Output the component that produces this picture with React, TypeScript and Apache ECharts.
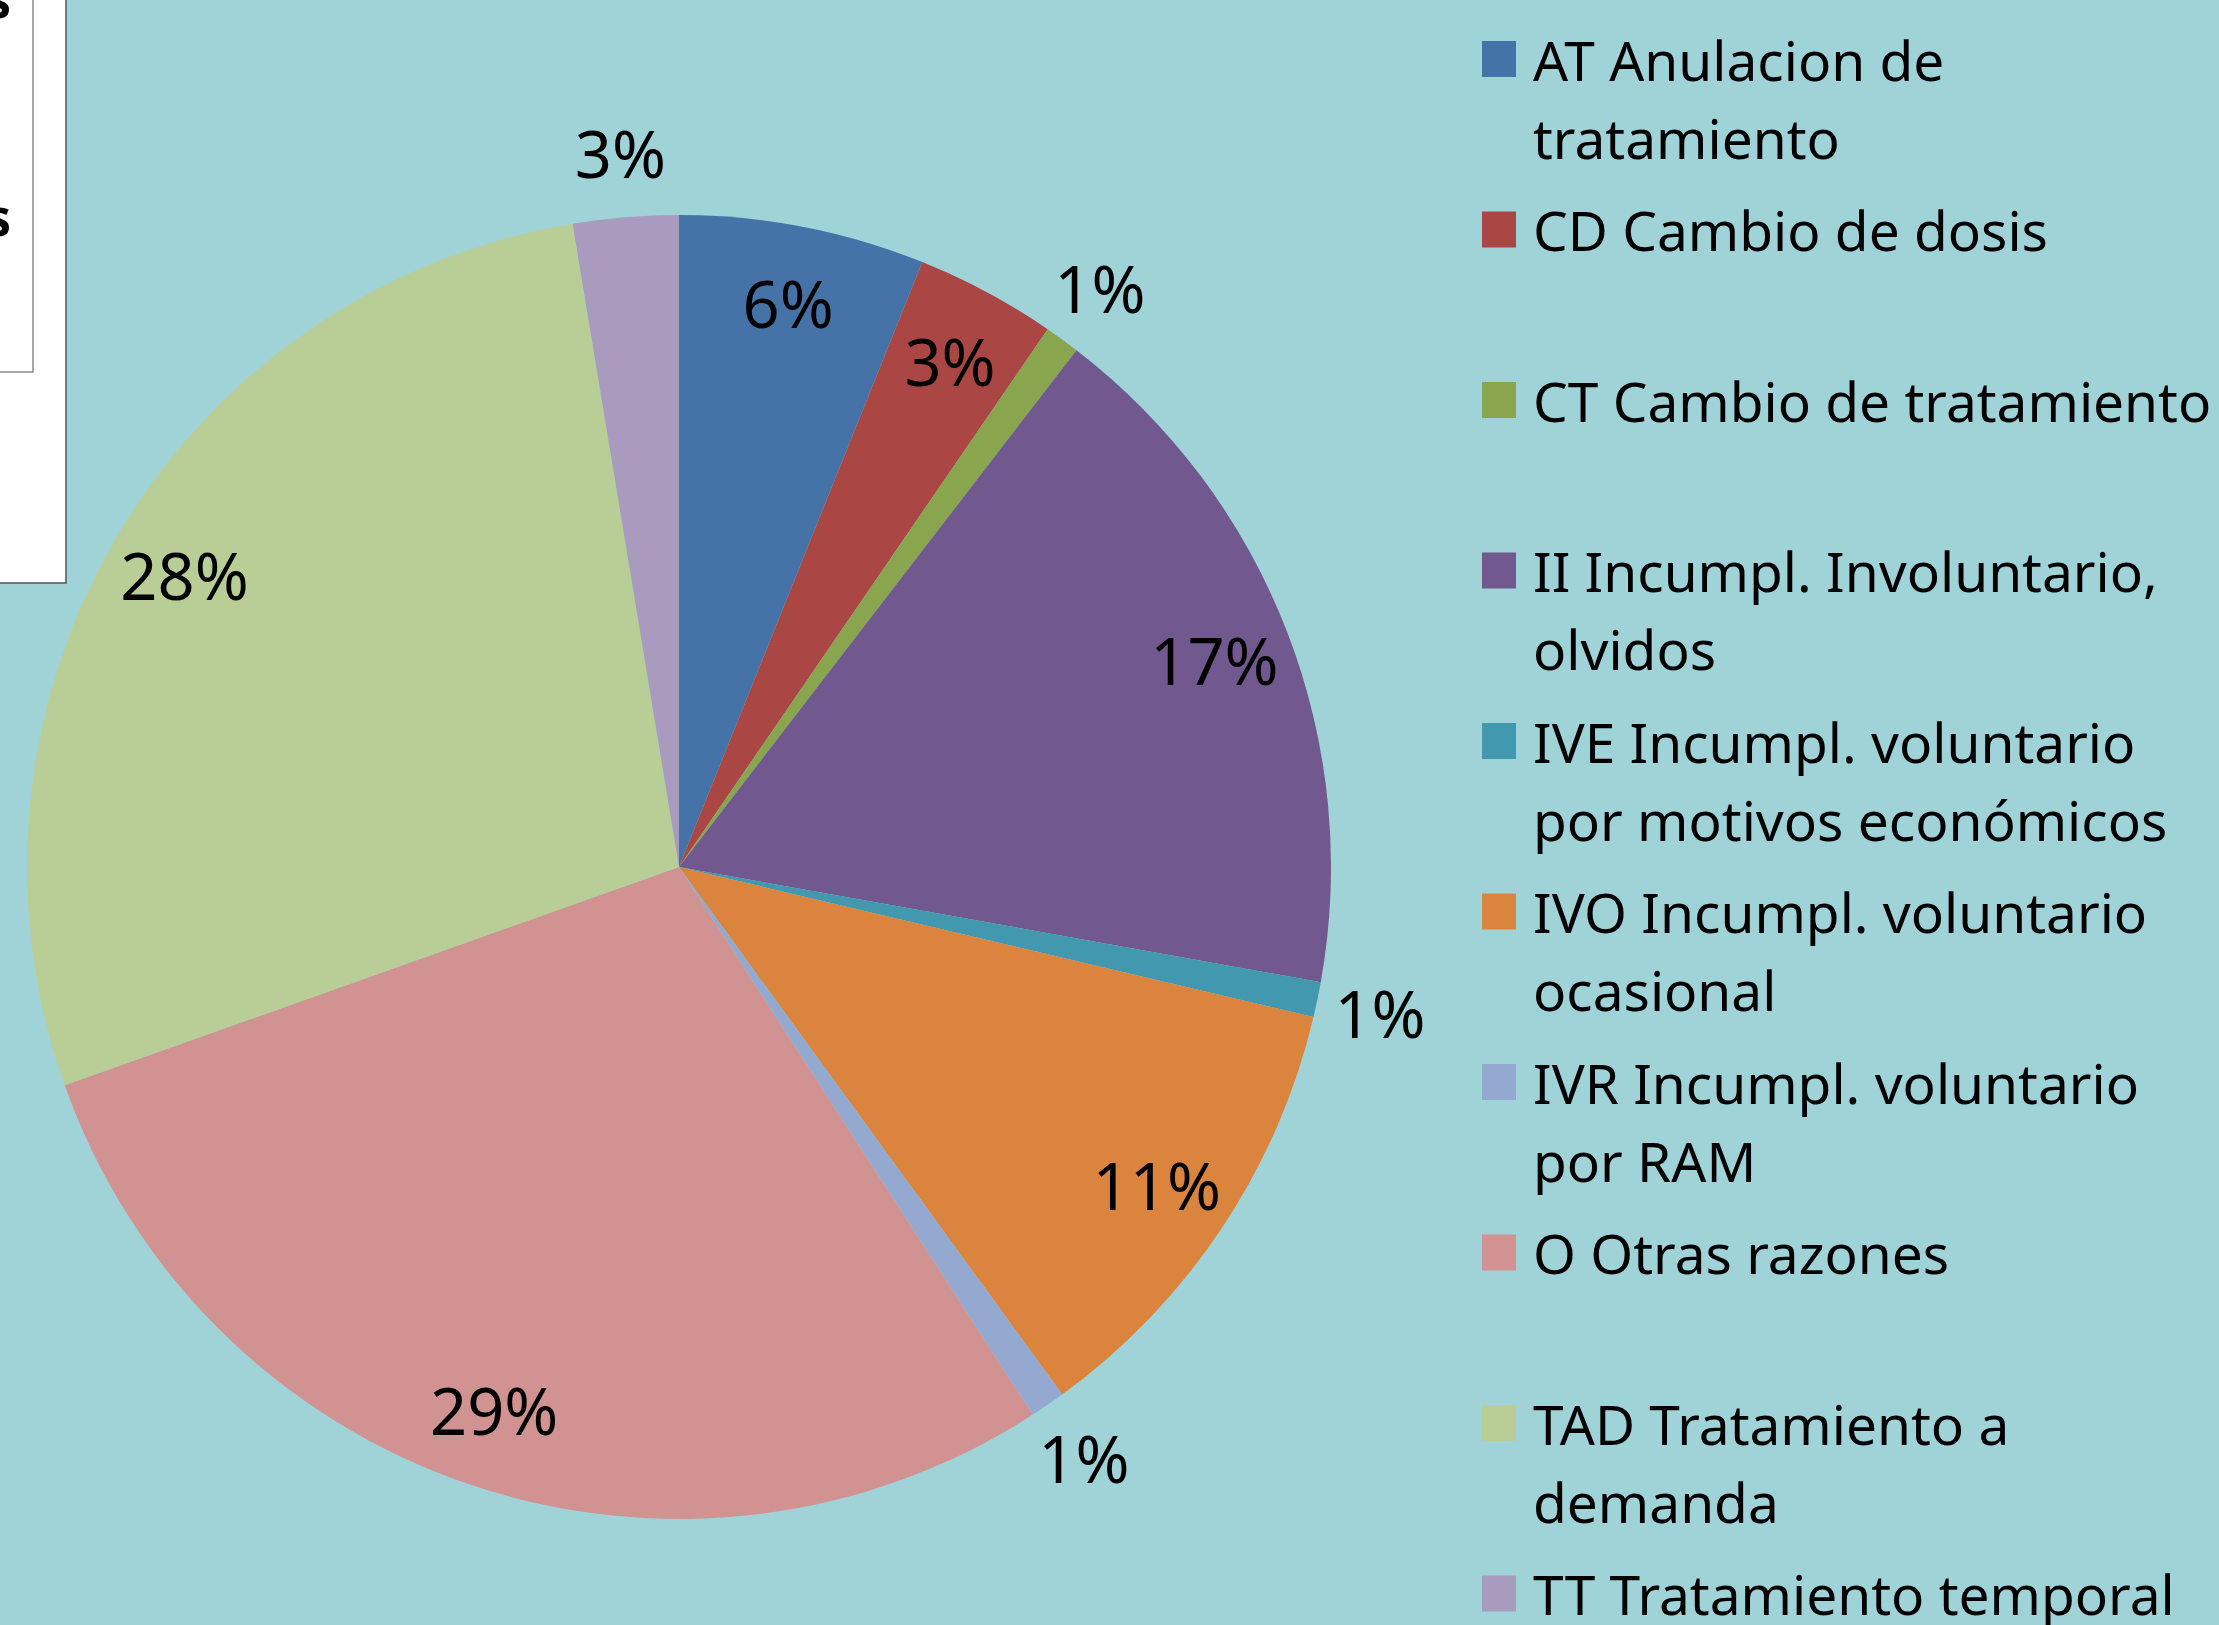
import React, { useEffect, useRef } from "react";
import * as echarts from "echarts";

const categories = [
  "AT Anulacion de\ntratamiento",
  "CD Cambio de dosis",
  "CT Cambio de tratamiento",
  "II Incumpl. Involuntario,\nolvidos",
  "IVE Incumpl. voluntario\npor motivos económicos",
  "IVO Incumpl. voluntario\nocasional",
  "IVR Incumpl. voluntario\npor RAM",
  "O Otras razones",
  "TAD Tratamiento a\ndemanda",
  "TT Tratamiento temporal",
];
const counts = [7, 4, 1, 20, 1, 13, 1, 33, 32, 3];
const colors = [
  "#4572A7", "#AA4643", "#89A54E", "#71588F", "#4198AF",
  "#DB843D", "#93A9CF", "#D19392", "#B9CD96", "#A99BBD",
];
// which labels are drawn outside the pie
const outsideLabel = [false, false, true, false, true, false, true, false, false, true];

const W = 2219;
const H = 1625;
const CX = 679;
const CY = 867;
const R = 652;
const FONT = '"Noto Sans", "Open Sans", sans-serif';

export default function App() {
  const ref = useRef<HTMLDivElement>(null);
  useEffect(() => {
    if (!ref.current) return;
    const chart = echarts.init(ref.current, undefined, { renderer: "svg" });
    const total = counts.reduce((a, b) => a + b, 0);
    const pctText = (v: number) => Math.round((v / total) * 100) + "%";

    const labelData = (outside: boolean) =>
      counts.map((v, i) => ({
        name: categories[i],
        value: v,
        itemStyle: { color: "rgba(0,0,0,0)" },
        label: {
          show: outsideLabel[i] === outside,
          position: "inside",
          formatter: () => pctText(v),
          color: "#000",
          fontSize: 65,
          fontFamily: FONT,
        },
      }));

    const legendGraphics: any[] = [];
    categories.forEach((name, i) => {
      const cy = 59 + i * 170.5;
      legendGraphics.push({
        type: "rect",
        shape: { x: 1482, y: cy - 18, width: 34, height: 36 },
        style: { fill: colors[i] },
        silent: true,
      });
      legendGraphics.push({
        type: "text",
        x: 1533,
        y: cy - 39,
        style: {
          text: name,
          fill: "#000",
          font: `55px ${FONT}`,
          lineHeight: 78,
          verticalAlign: "top",
          align: "left",
        },
        silent: true,
      });
    });

    chart.setOption({
      animation: false,
      backgroundColor: "#A0D3D8",
      graphic: [
        // partial white box at top-left
        {
          type: "rect",
          shape: { x: -2, y: -2, width: 68, height: 585 },
          style: { fill: "#FFFFFF", stroke: "#555555", lineWidth: 1.5 },
          silent: true,
        },
        {
          type: "rect",
          shape: { x: -2, y: -2, width: 35, height: 374 },
          style: { fill: "#FFFFFF", stroke: "#8A8A8A", lineWidth: 1.5 },
          silent: true,
        },
        {
          type: "text",
          x: -14,
          y: -26,
          style: { text: "s", fill: "#000", font: `bold 50px ${FONT}`, verticalAlign: "top" },
          silent: true,
        },
        {
          type: "text",
          x: -14,
          y: 192,
          style: { text: "s", fill: "#000", font: `bold 50px ${FONT}`, verticalAlign: "top" },
          silent: true,
        },
        ...legendGraphics,
      ],
      series: [
        {
          type: "pie",
          center: [CX, CY],
          radius: [0, R],
          startAngle: 90,
          clockwise: true,
          silent: true,
          label: { show: false },
          labelLine: { show: false },
          itemStyle: { borderWidth: 0 },
          data: counts.map((v, i) => ({
            name: categories[i],
            value: v,
            itemStyle: { color: colors[i] },
          })),
        },
        {
          type: "pie",
          center: [CX, CY],
          radius: [490, R],
          startAngle: 90,
          clockwise: true,
          silent: true,
          labelLine: { show: false },
          itemStyle: { borderWidth: 0 },
          data: labelData(false),
        },
        {
          type: "pie",
          center: [CX, CY],
          radius: [R, 774],
          startAngle: 90,
          clockwise: true,
          silent: true,
          labelLine: { show: false },
          itemStyle: { borderWidth: 0 },
          data: labelData(true),
        },
      ],
    });
    return () => chart.dispose();
  }, []);
  return (
    <div
      ref={ref}
      style={{ position: "fixed", left: 0, top: 0, width: W, height: H }}
    />
  );
}
